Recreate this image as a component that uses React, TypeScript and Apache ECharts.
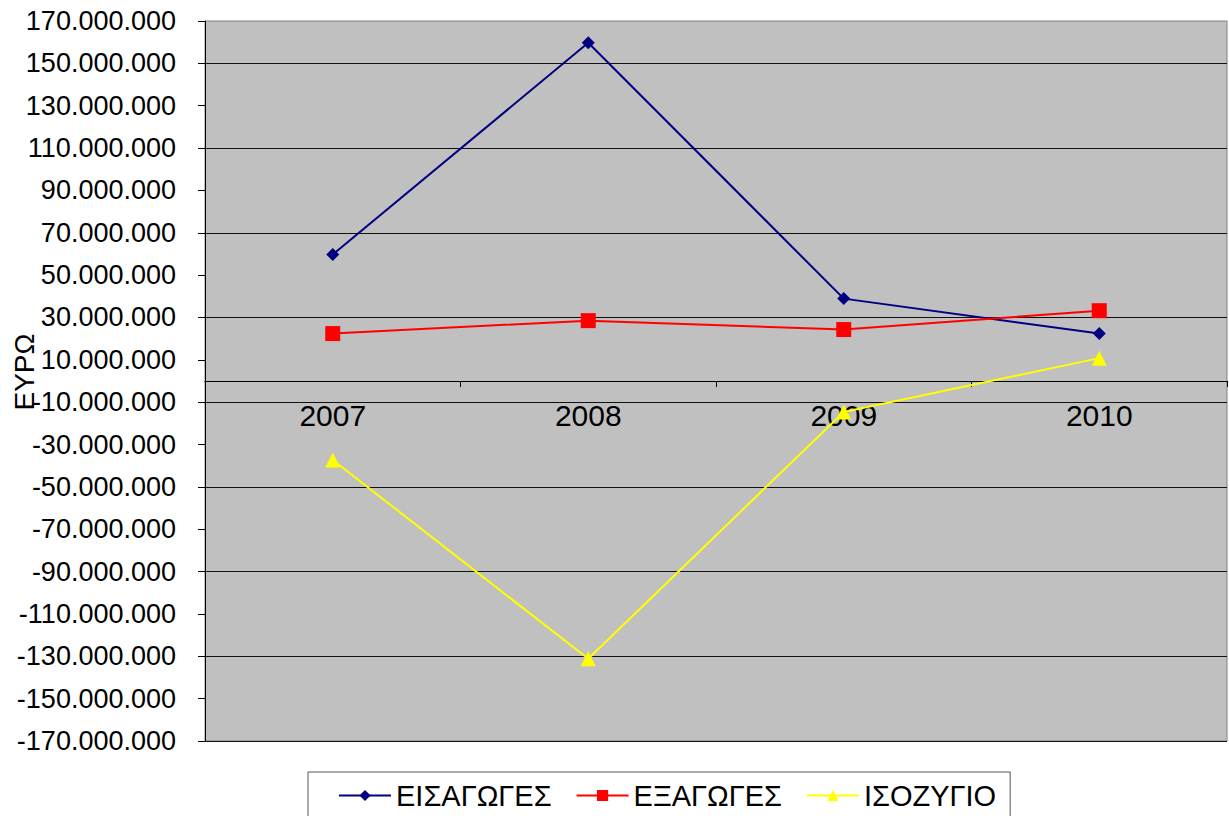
import React, { useEffect, useRef } from "react";
import * as echarts from "echarts";

const categories = ["2007", "2008", "2009", "2010"];
const importsValues = [59700000, 159700000, 38900000, 22400000];
const exportsValues = [22400000, 28500000, 24300000, 33200000];
const balanceValues = [-37300000, -131200000, -14600000, 10800000];
const yTickValues = [
  -170000000, -150000000, -130000000, -110000000, -90000000, -70000000,
  -50000000, -30000000, -10000000, 10000000, 30000000, 50000000, 70000000,
  90000000, 110000000, 130000000, 150000000, 170000000,
];
const seriesNames = ["ΕΙΣΑΓΩΓΕΣ", "ΕΞΑΓΩΓΕΣ", "ΙΣΟΖΥΓΙΟ"];
const yAxisTitle = "ΕΥΡΩ";

const FONT = "'Liberation Sans', Arial, sans-serif";

function fmt(v: number): string {
  const neg = v < 0;
  const s = Math.round(Math.abs(v)).toString();
  const withDots = s.replace(/\B(?=(\d{3})+(?!\d))/g, ".");
  return (neg ? "-" : "") + withDots;
}

export default function App() {
  const ref = useRef<HTMLDivElement>(null);
  useEffect(() => {
    document.body.style.margin = "0";
    const chart = echarts.init(ref.current!, null, { renderer: "svg" });
    const labelSet = new Set(yTickValues);
    chart.setOption({
      animation: false,
      textStyle: { fontFamily: FONT },
      grid: {
        left: 205,
        right: 2,
        top: 21,
        bottom: 75,
        show: true,
        backgroundColor: "#c0c0c0",
        borderColor: "#808080",
        borderWidth: 1,
      },
      xAxis: {
        type: "category",
        data: categories,
        boundaryGap: true,
        offset: -360,
        axisLine: { onZero: false, lineStyle: { color: "#000", width: 1 } },
        axisTick: { show: true, length: 6, inside: false, lineStyle: { color: "#000" } },
        axisLabel: { fontSize: 30, color: "#000", margin: 19, fontFamily: FONT },
        splitLine: { show: false },
      },
      yAxis: {
        type: "value",
        min: -170000000,
        max: 170000000,
        interval: 10000000,
        axisLine: { show: true, lineStyle: { color: "#000", width: 1 } },
        axisTick: {
          show: true,
          length: 7,
          inside: false,
          customValues: yTickValues,
          lineStyle: { color: "#000" },
        },
        axisLabel: {
          fontSize: 27,
          color: "#000",
          margin: 29,
          fontFamily: FONT,
          customValues: yTickValues,
          formatter: (v: number) => (labelSet.has(Math.round(v)) ? fmt(v) : ""),
        },
        splitLine: {
          show: true,
          lineStyle: { color: ["#111", "rgba(0,0,0,0)"], width: 1 },
        },
      },
      legend: {
        show: true,
        top: 772,
        left: 308,
        itemWidth: 52,
        itemHeight: 14,
        itemGap: 24,
        padding: [9, 14, 30, 30],
        borderColor: "#555",
        borderWidth: 1,
        textStyle: { fontSize: 29, color: "#000", fontFamily: FONT },
        data: seriesNames,
      },
      graphic: [
        {
          type: "text",
          x: 24,
          y: 372,
          rotation: Math.PI / 2,
          style: {
            text: yAxisTitle,
            fontSize: 28,
            fontFamily: FONT,
            fill: "#000",
            textAlign: "center",
            textVerticalAlign: "middle",
          },
        },
      ],
      series: [
        {
          name: seriesNames[0],
          type: "line",
          data: importsValues,
          symbol: "diamond",
          symbolSize: 13,
          lineStyle: { color: "#000080", width: 2 },
          itemStyle: { color: "#000080" },
        },
        {
          name: seriesNames[1],
          type: "line",
          data: exportsValues,
          symbol: "rect",
          symbolSize: 15,
          lineStyle: { color: "#ff0000", width: 2 },
          itemStyle: { color: "#ff0000" },
        },
        {
          name: seriesNames[2],
          type: "line",
          data: balanceValues,
          symbol: "triangle",
          symbolSize: 15,
          lineStyle: { color: "#ffff00", width: 2 },
          itemStyle: { color: "#ffff00" },
        },
      ],
    });
    return () => chart.dispose();
  }, []);
  return (
    <div
      ref={ref}
      style={{ position: "absolute", left: 0, top: 0, width: 1229, height: 816 }}
    />
  );
}
